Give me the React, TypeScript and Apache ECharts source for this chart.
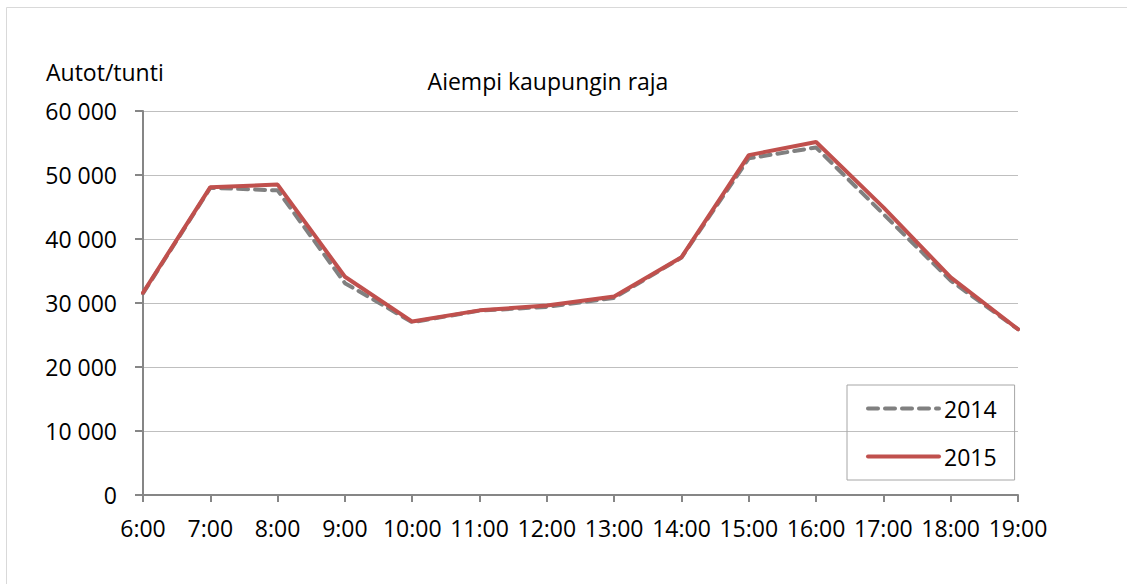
import React, { useEffect, useRef } from "react";
import * as echarts from "echarts";

const hours = ["6:00", "7:00", "8:00", "9:00", "10:00", "11:00", "12:00", "13:00", "14:00", "15:00", "16:00", "17:00", "18:00", "19:00"];
const values2014 = [31500, 48000, 47600, 33100, 27000, 28800, 29400, 30800, 37100, 52600, 54300, 43900, 33500, 25900];
const values2015 = [31600, 48100, 48500, 34100, 27100, 28850, 29600, 31000, 37150, 53100, 55150, 44950, 34000, 25900];
const chartTitle = "Aiempi kaupungin raja";
const yAxisTitle = "Autot/tunti";

const FONT = "'Open Sans', sans-serif";
const GRAY = "#808080";
const RED = "#c0504d";
const DASH = [10, 7];

function fmt(v: number): string {
  return String(v).replace(/\B(?=(\d{3})+(?!\d))/g, " ");
}

export default function App() {
  const ref = useRef<HTMLDivElement>(null);
  useEffect(() => {
    if (!ref.current) return;
    const chart = echarts.init(ref.current, undefined, { renderer: "svg" });
    chart.setOption({
      animation: false,
      backgroundColor: "#ffffff",
      textStyle: { fontFamily: FONT },
      grid: { left: 143, right: 109, top: 111, bottom: 89, containLabel: false },
      graphic: [
        {
          type: "rect",
          shape: { x: 6.5, y: 7.5, width: 1200, height: 700 },
          style: { fill: "none", stroke: "#d9d9d9", lineWidth: 1 },
          silent: true,
        },
        {
          type: "text",
          left: 46,
          top: 60,
          style: { text: yAxisTitle, font: `23px ${FONT}`, fill: "#000" },
        },
        {
          type: "text",
          x: 548,
          y: 69,
          style: { text: chartTitle, font: `23px ${FONT}`, fill: "#000", textAlign: "center" },
        },
      ],
      legend: {
        orient: "vertical",
        left: 847,
        top: 385,
        padding: [12, 18, 12, 19],
        itemGap: 25,
        itemWidth: 71,
        itemHeight: 14,
        borderColor: "#a6a6a6",
        borderWidth: 1,
        textStyle: { fontFamily: FONT, fontSize: 23, color: "#000" },
        itemStyle: { opacity: 0 },
        data: [
          { name: "2014", lineStyle: { color: GRAY, width: 4, type: DASH, cap: "round" }, itemStyle: { opacity: 0 } },
          { name: "2015", lineStyle: { color: RED, width: 4, cap: "round" }, itemStyle: { opacity: 0 } },
        ],
      },
      xAxis: {
        type: "category",
        data: hours,
        boundaryGap: false,
        axisLine: { lineStyle: { color: "#868686", width: 2 } },
        axisTick: { show: true, length: 7, lineStyle: { color: "#868686", width: 2 } },
        axisLabel: { color: "#000", fontSize: 23, fontFamily: FONT, margin: 21, interval: 0 },
        splitLine: { show: false },
      },
      yAxis: {
        type: "value",
        min: 0,
        max: 60000,
        interval: 10000,
        axisLine: { show: true, lineStyle: { color: "#868686", width: 2 } },
        axisTick: { show: true, length: 8, lineStyle: { color: "#868686", width: 2 } },
        axisLabel: { color: "#000", fontSize: 23, fontFamily: FONT, margin: 26, formatter: (v: number) => fmt(v) },
        splitLine: { show: true, lineStyle: { color: "#bfbfbf", width: 1 } },
      },
      series: [
        {
          name: "2014",
          type: "line",
          data: values2014,
          symbol: "none",
          color: GRAY,
          lineStyle: { color: GRAY, width: 4, type: DASH, cap: "round" },
          z: 2,
        },
        {
          name: "2015",
          type: "line",
          data: values2015,
          symbol: "none",
          color: RED,
          lineStyle: { color: RED, width: 4, cap: "round" },
          z: 3,
        },
      ],
    });
    return () => chart.dispose();
  }, []);
  return <div ref={ref} style={{ position: "absolute", left: 0, top: 0, width: 1127, height: 584 }} />;
}
